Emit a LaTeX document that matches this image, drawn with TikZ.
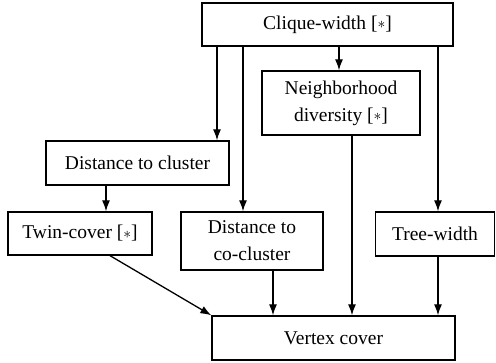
\documentclass[tikz,border=0pt]{standalone}
\usepackage{fontspec}
\usepackage{graphicx}
\setmainfont{Liberation Serif}
\usetikzlibrary{arrows.meta}
\newcommand{\myast}{\raisebox{0.1ex}{\scalebox{0.75}{$\ast$}}}
\begin{document}
\begin{tikzpicture}[x=1pt,y=-1pt,
  box/.style={draw,line width=1.3pt,rectangle,inner sep=0pt,align=center,font=\fontsize{19.5}{27}\selectfont},
  arr/.style={line width=1.3pt,-{Latex[length=11pt,width=8pt]}}]
\useasboundingbox (0,0) rectangle (496,363);
\node[box,minimum width=251pt,minimum height=43pt] (cw) at (327.5,24.5) {Clique-width [\myast]};
\node[box,minimum width=158pt,minimum height=64pt] (nd) at (341,103) {Neighborhood\\diversity [\myast]};
\node[box,minimum width=183pt,minimum height=44pt] (dc) at (137.5,163) {Distance to cluster};
\node[box,minimum width=144pt,minimum height=43pt] (tc) at (80,233.5) {Twin-cover [\myast]};
\node[box,minimum width=142pt,minimum height=58pt] (cc) at (252,241) {Distance to\\co-cluster};
\node[box,minimum width=119pt,minimum height=44pt] (tw) at (435,234) {Tree-width};
\node[box,minimum width=243pt,minimum height=44pt] (vc) at (333.5,338) {Vertex cover};
\draw[arr] (cw.south -| 217,0) -- (dc.north -| 217,0);
\draw[arr] (cw.south -| 243,0) -- (cc.north -| 243,0);
\draw[arr] (cw.south -| 339,0) -- (nd.north -| 339,0);
\draw[arr] (cw.south -| 438,0) -- (tw.north -| 438,0);
\draw[arr] (dc.south -| 106,0) -- (tc.north -| 106,0);
\draw[arr] (tc.south -| 110,0) -- (vc.north west);
\draw[arr] (cc.south -| 273,0) -- (vc.north -| 273,0);
\draw[arr] (nd.south -| 352,0) -- (vc.north -| 352,0);
\draw[arr] (tw.south -| 438,0) -- (vc.north -| 438,0);
\end{tikzpicture}
\end{document}
